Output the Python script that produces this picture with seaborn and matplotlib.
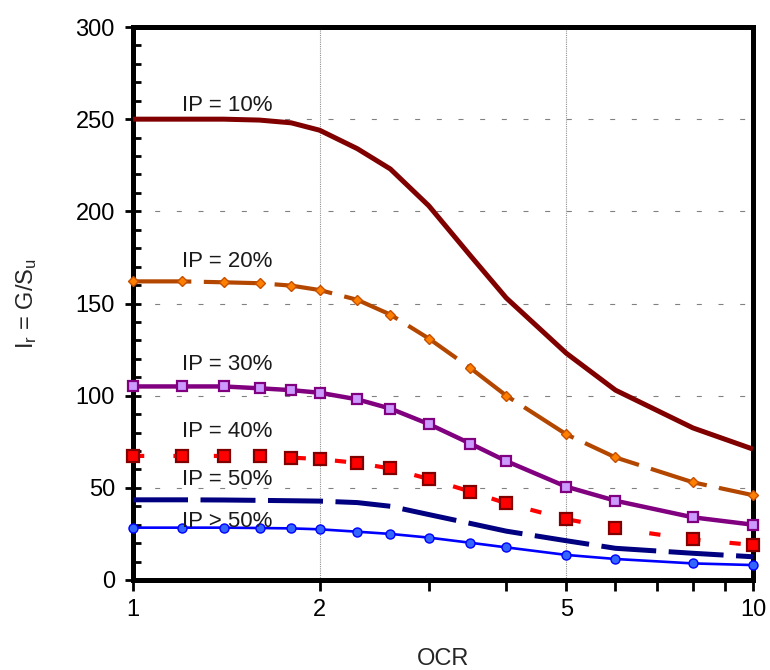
import numpy as np
import pandas as pd
import seaborn as sns
import matplotlib
matplotlib.use("Agg")
import matplotlib.pyplot as plt
from matplotlib.ticker import FixedLocator, MultipleLocator, NullFormatter

# Over-consolidation ratio and normalised rigidity index for each plasticity class
ocr = [1, 1.2, 1.4, 1.6, 1.8, 2, 2.3, 2.6, 3, 3.5, 4, 5, 6, 8, 10]
ip10 = [250, 250, 250, 249.5, 248, 244, 234, 223, 203, 176, 153, 123, 103, 82.5, 71]
ip20 = [162, 162, 161.5, 161, 159.7, 157.3, 152, 144, 131, 115, 100, 79, 66.5, 53, 46]
ip30 = [105, 105, 105, 104, 103, 101.6, 98, 93, 84.6, 74, 64.5, 50.6, 43, 34, 30]
ip40 = [67.3, 67.3, 67.3, 67.3, 66.4, 65.6, 63.5, 60.5, 54.8, 48, 41.6, 33, 28, 22, 19]
ip50 = [43.5, 43.5, 43.4, 43.2, 43, 42.8, 42, 40, 35.5, 30.7, 26.5, 21.3, 17.2, 14.5, 12.6]
ipgt50 = [28.4, 28.4, 28.4, 28.2, 28, 27.5, 26.2, 25, 23, 20.2, 17.7, 13.6, 11.4, 9, 8.1]

series_names = ["IP = 10%", "IP = 20%", "IP = 30%", "IP = 40%", "IP = 50%", "IP > 50%"]
x_major = [1, 2, 5, 10]
x_minor = [3, 4, 6, 7, 8, 9]

sns.set_theme(style="white")
plt.rcParams["font.family"] = ["Liberation Sans", "DejaVu Sans"]
plt.rcParams["mathtext.default"] = "regular"

fig = plt.figure(figsize=(7.7, 6.7), dpi=100)
ax = fig.add_axes([133 / 770, 1 - 580 / 670, (753 - 133) / 770, (580 - 27) / 670])
ax.set_xscale("log")

styles = [
    dict(color="#800000", lw=3.6, linestyle="-", marker=None),
    dict(color="#b34700", lw=3.0, linestyle=(0, (14, 3)), marker="D", ms=5.5,
         mfc="#ff7f00", mec="#c45000", mew=1.0),
    dict(color="#800080", lw=3.2, linestyle="-", marker="s", ms=7.5,
         mfc="#cc99ff", mec="#800080", mew=1.6),
    dict(color="#ff0000", lw=3.0, linestyle=(0, (2.7, 7)), marker="s", ms=8,
         mfc="#ff0000", mec="#800000", mew=1.6),
    dict(color="#000080", lw=3.6, linestyle=(0, (11, 2.5)), marker=None),
    dict(color="#0000ff", lw=1.9, linestyle="-", marker="o", ms=6.5,
         mfc="#3366ff", mec="#0000ff", mew=1.0),
]

all_values = [ip10, ip20, ip30, ip40, ip50, ipgt50]
df = pd.DataFrame({
    "OCR": np.tile(ocr, len(all_values)),
    "Ir": np.concatenate(all_values),
    "IP": np.repeat(series_names, len(ocr)),
})

for name, st in zip(series_names, styles):
    sub = df[df["IP"] == name]
    sns.lineplot(data=sub, x="OCR", y="Ir", ax=ax, errorbar=None, sort=False,
                 clip_on=False, zorder=3, solid_capstyle="butt",
                 dash_capstyle="butt", **st)

# curve labels
label_pos = [(1.2, 254.4), (1.2, 169.8), (1.2, 114), (1.2, 77.6), (1.2, 51.5), (1.2, 28.8)]
for name, (lx, ly) in zip(series_names, label_pos):
    ax.text(lx, ly, name, fontsize=16, color="#1a1a1a", ha="left", va="baseline", zorder=4)

ax.set_xlim(1, 10)
ax.set_ylim(0, 300)

ax.xaxis.set_major_locator(FixedLocator(x_major))
ax.xaxis.set_minor_locator(FixedLocator(x_minor))
ax.set_xticklabels([str(v) for v in x_major])
ax.xaxis.set_minor_formatter(NullFormatter())
ax.yaxis.set_major_locator(MultipleLocator(50))
ax.yaxis.set_minor_locator(MultipleLocator(10))

ax.tick_params(axis="x", which="both", direction="out", length=8, width=2,
               color="black", labelsize=17, pad=6, bottom=True, labelcolor="black")
ax.tick_params(axis="y", which="major", direction="inout", length=12, width=2,
               color="black", labelsize=17, pad=7, left=True, labelcolor="black")
ax.tick_params(axis="y", which="minor", direction="in", length=6, width=2,
               color="black", left=True)

for sp in ax.spines.values():
    sp.set_color("black")
    sp.set_linewidth(3.6)
    sp.set_visible(True)

# reference grid
ax.set_axisbelow(True)
ax.yaxis.grid(True, which="major", color="#808080", lw=0.8, linestyle=(0, (4.5, 15)))
ax.xaxis.grid(True, which="major", color="#909090", lw=0.8, linestyle=(0, (1, 1)))

ax.set_xlabel("OCR", fontsize=17, labelpad=19)
ax.set_ylabel(r"$I_r$ = G/$S_u$", fontsize=17, labelpad=26)

fig.savefig("out.png", dpi=100)
